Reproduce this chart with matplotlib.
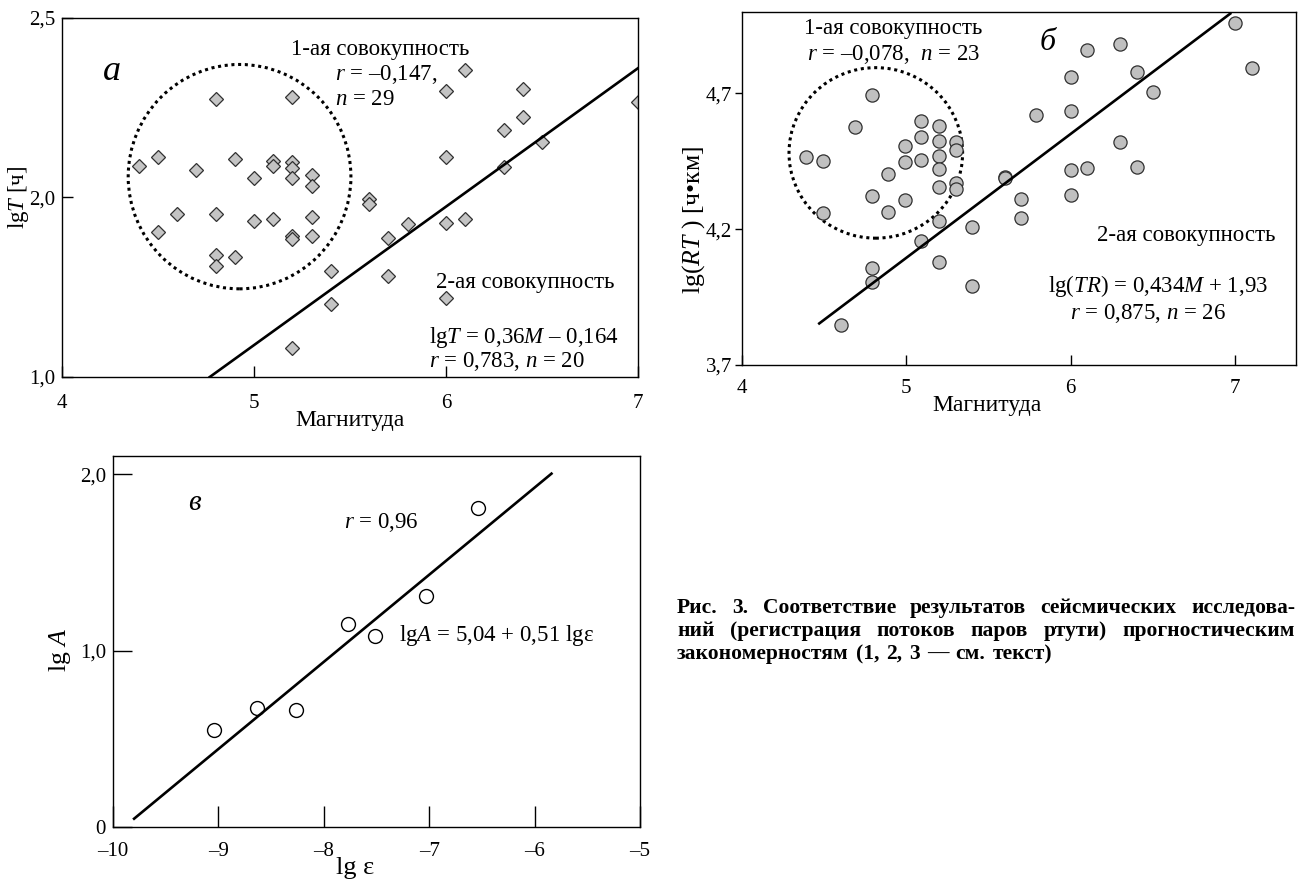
import matplotlib.pyplot as plt
import numpy as np
from matplotlib.patches import Ellipse

# Times-like serif for everything, italic letters through mathtext
plt.rcParams['font.family'] = ['Liberation Serif', 'DejaVu Serif']
plt.rcParams['mathtext.fontset'] = 'custom'
plt.rcParams['mathtext.rm'] = 'Liberation Serif'
plt.rcParams['mathtext.it'] = 'Liberation Serif:italic'
plt.rcParams['font.size'] = 16.5
plt.rcParams['xtick.labelsize'] = 15
plt.rcParams['ytick.labelsize'] = 15
plt.rcParams['axes.linewidth'] = 1.0

# ---- panel a: lgT vs magnitude ----
mag_a = [4.4, 4.5, 4.5, 4.6, 4.7, 4.8, 4.8, 4.8, 4.8, 4.9, 4.9, 5.0, 5.0,
         5.1, 5.1, 5.1, 5.2, 5.2, 5.2, 5.2, 5.2, 5.2, 5.3, 5.3, 5.3, 5.3,
         5.2, 5.4, 5.4, 5.6, 5.6, 5.7, 5.7, 5.8, 6.0, 6.0, 6.0, 6.0,
         6.1, 6.1, 6.3, 6.3, 6.4, 6.4, 6.5, 7.0]
lgT_a = [2.088, 2.114, 1.905, 1.955, 2.076, 2.275, 1.955, 1.840, 1.809,
         2.107, 1.834, 2.054, 1.935, 2.102, 2.088, 1.939, 2.281, 2.100,
         2.081, 2.053, 1.893, 1.884, 2.062, 2.033, 1.946, 1.893,
         1.581, 1.795, 1.702, 1.995, 1.981, 1.886, 1.781, 1.926, 2.296,
         2.114, 1.930, 1.719, 2.354, 1.939, 2.188, 2.084, 2.303, 2.225,
         2.155, 2.265]
fit_a_x = [4.77, 7.0]
fit_a_y = [1.50, 2.36]
group1_a = (4.925, 2.058, 1.16, 0.625)  # centre x, centre y, width, height
# the original prints "1,0" at the bottom tick
yticks_a = [1.5, 2.0, 2.5]
ytick_labels_a = ['1,0', '2,0', '2,5']
xticks_mag = [4, 5, 6, 7]

# ---- panel b: lg(RT) vs magnitude ----
mag_b = [4.39, 4.49, 4.49, 4.69, 4.79, 4.79, 4.89, 4.89, 4.99, 4.99, 4.99,
         5.09, 5.09, 5.09, 5.2, 5.2, 5.2, 5.2, 5.2, 5.2, 5.3, 5.3, 5.3, 5.3,
         4.6, 4.79, 4.79, 5.09, 5.2, 5.4, 5.4, 5.6, 5.6, 5.7, 5.7, 5.79,
         6.0, 6.0, 6.0, 6.0, 6.1, 6.1, 6.3, 6.3, 6.4, 6.4, 6.5, 7.0, 7.1]
lgRT_b = [4.467, 4.452, 4.258, 4.577, 4.695, 4.323, 4.403, 4.264, 4.507,
          4.446, 4.307, 4.599, 4.538, 4.455, 4.581, 4.526, 4.468, 4.421,
          4.356, 4.231, 4.523, 4.491, 4.369, 4.348,
          3.847, 4.056, 4.004, 4.155, 4.078, 4.209, 3.990, 4.393, 4.387,
          4.311, 4.240, 4.620, 4.759, 4.634, 4.418, 4.326, 4.861, 4.425,
          4.882, 4.523, 4.780, 4.430, 4.706, 4.958, 4.792]
fit_b_x = [4.47, 6.97]
fit_b_y = [3.853, 4.994]
group1_b = (4.814, 4.481, 1.056, 0.628)
yticks_b = [3.7, 4.2, 4.7]
ytick_labels_b = ['3,7', '4,2', '4,7']

# ---- panel c: lgA vs lg(epsilon) ----
lge_c = [-9.04, -8.63, -8.26, -7.77, -7.51, -7.03, -6.54]
lgA_c = [0.551, 0.675, 0.664, 1.149, 1.081, 1.309, 1.808]
fit_c_x = [-9.80, -5.84]
fit_c_y = [0.047, 2.004]
xticks_c = [-10, -9, -8, -7, -6, -5]
xtick_labels_c = ['–10', '–9', '–8', '–7', '–6', '–5']
yticks_c = [0, 1, 2]
ytick_labels_c = ['0', '1,0', '2,0']

caption = ['Рис. 3. Соответствие результатов сейсмических исследова-',
           'ний (регистрация потоков паров ртути) прогностическим',
           'закономерностям (1, 2, 3 — см. текст)']

fig = plt.figure(figsize=(12.99, 8.81), dpi=100)


def centre_labels(ax, xpos, ypos):
    ax.xaxis.set_label_coords(*xpos)
    ax.yaxis.set_label_coords(*ypos)
    ax.xaxis.label.set_va('center')
    ax.yaxis.label.set_va('center')


# panel a
ax = fig.add_axes([0.0477, 0.5721, 0.4434, 0.4075])
ax.plot(mag_a, lgT_a, 'D', ms=7.5, mfc='#c4c4c4', mec='#303030', mew=0.9)
ax.plot(fit_a_x, fit_a_y, color='black', lw=1.9)
cx, cy, w, h = group1_a
ax.add_patch(Ellipse((cx, cy), w, h, fill=False, ls=(0, (1, 1.2)), lw=2.2))
ax.set_xlim(4, 7)
ax.set_ylim(1.5, 2.5)
ax.set_xticks(xticks_mag)
ax.set_yticks(yticks_a, ytick_labels_a)
ax.tick_params(direction='in', length=8, width=1)
ax.tick_params(axis='x', pad=12)
ax.tick_params(axis='y', pad=5)
ax.set_xlabel('Магнитуда', fontsize=17)
ax.set_ylabel('lg$T$ [ч]', fontsize=16.5)
centre_labels(ax, (0.50, -0.12), (-0.076, 0.5))
ax.text(4.26, 2.35, 'а', fontstyle='italic', fontsize=26, ha='center', va='center')
ax.text(5.66, 2.413, '1-ая совокупность', ha='center', va='center')
ax.text(5.42, 2.343, '$r$ = –0,147,', ha='left', va='center')
ax.text(5.42, 2.273, '$n$ = 29', ha='left', va='center')
ax.text(5.95, 1.763, '2-ая совокупность', ha='left', va='center')
ax.text(5.91, 1.611, 'lg$T$ = 0,36$M$ – 0,164', ha='left', va='center')
ax.text(5.91, 1.543, '$r$ = 0,783, $n$ = 20', ha='left', va='center')

# panel b
ax = fig.add_axes([0.5712, 0.5857, 0.4265, 0.4007])
ax.plot(mag_b, lgRT_b, 'o', ms=9.5, mfc='#c0c0c0', mec='#303030', mew=0.9)
ax.plot(fit_b_x, fit_b_y, color='black', lw=1.9)
cx, cy, w, h = group1_b
ax.add_patch(Ellipse((cx, cy), w, h, fill=False, ls=(0, (1, 1.2)), lw=2.2))
ax.set_xlim(4, 7.37)
ax.set_ylim(3.7, 5.0)
ax.set_xticks(xticks_mag)
ax.set_yticks(yticks_b, ytick_labels_b)
ax.tick_params(axis='x', direction='in', length=7, width=1, pad=10)
ax.tick_params(axis='y', direction='out', length=5, width=1, pad=2)
ax.set_xlabel('Магнитуда', fontsize=17)
ax.set_ylabel('lg($RT$ ) [ч•км]', fontsize=18.5)
centre_labels(ax, (0.442, -0.115), (-0.088, 0.41))
ax.text(4.92, 4.94, '1-ая совокупность', ha='center', va='center')
ax.text(4.92, 4.845, '$r$ = –0,078,  $n$ = 23', ha='center', va='center')
ax.text(5.86, 4.888, 'б', fontstyle='italic', fontsize=23, ha='center', va='center')
ax.text(6.70, 4.176, '2-ая совокупность', ha='center', va='center')
ax.text(6.53, 3.992, 'lg($TR$) = 0,434$M$ + 1,93', ha='center', va='center')
ax.text(6.47, 3.888, '$r$ = 0,875, $n$ = 26', ha='center', va='center')

# panel c
ax = fig.add_axes([0.0870, 0.0613, 0.4057, 0.4211])
ax.plot(lge_c, lgA_c, 'o', ms=10, mfc='white', mec='black', mew=1.0)
ax.plot(fit_c_x, fit_c_y, color='black', lw=1.9)
ax.set_xlim(-10, -5)
ax.set_ylim(0, 2.104)
ax.set_xticks(xticks_c, xtick_labels_c)
ax.set_yticks(yticks_c, ytick_labels_c)
ax.tick_params(axis='x', direction='in', length=15, width=1, pad=11)
ax.tick_params(axis='y', direction='in', length=14, width=1, pad=5)
ax.set_xlabel('lg ε', fontsize=19)
ax.set_ylabel('lg $A$', fontsize=18.5)
centre_labels(ax, (0.459, -0.11), (-0.10, 0.477))
ax.text(-9.23, 1.84, 'в', fontstyle='italic', fontsize=21, ha='center', va='center')
ax.text(-7.45, 1.726, '$r$ = 0,96', ha='center', va='center')
ax.text(-7.29, 1.085, 'lg$A$ = 5,04 + 0,51 lgε', ha='left', va='center')

# caption, justified like the printed page
fig.canvas.draw()
renderer = fig.canvas.get_renderer()
left, right = 677 / 1299, 1295 / 1299
for i, line in enumerate(caption):
    y = 1 - (608 + 23 * i) / 881
    words = line.split(' ')
    texts = [fig.text(0, y, word, fontsize=15.5, fontweight='bold',
                      ha='left', va='center') for word in words]
    widths = [t.get_window_extent(renderer).width / fig.bbox.width for t in texts]
    if i < len(caption) - 1:
        gap = (right - left - sum(widths)) / (len(words) - 1)
    else:
        gap = 7 / 1299
    x = left
    for t, wd in zip(texts, widths):
        t.set_x(x)
        x += wd + gap

fig.savefig('out.png', dpi=100)
